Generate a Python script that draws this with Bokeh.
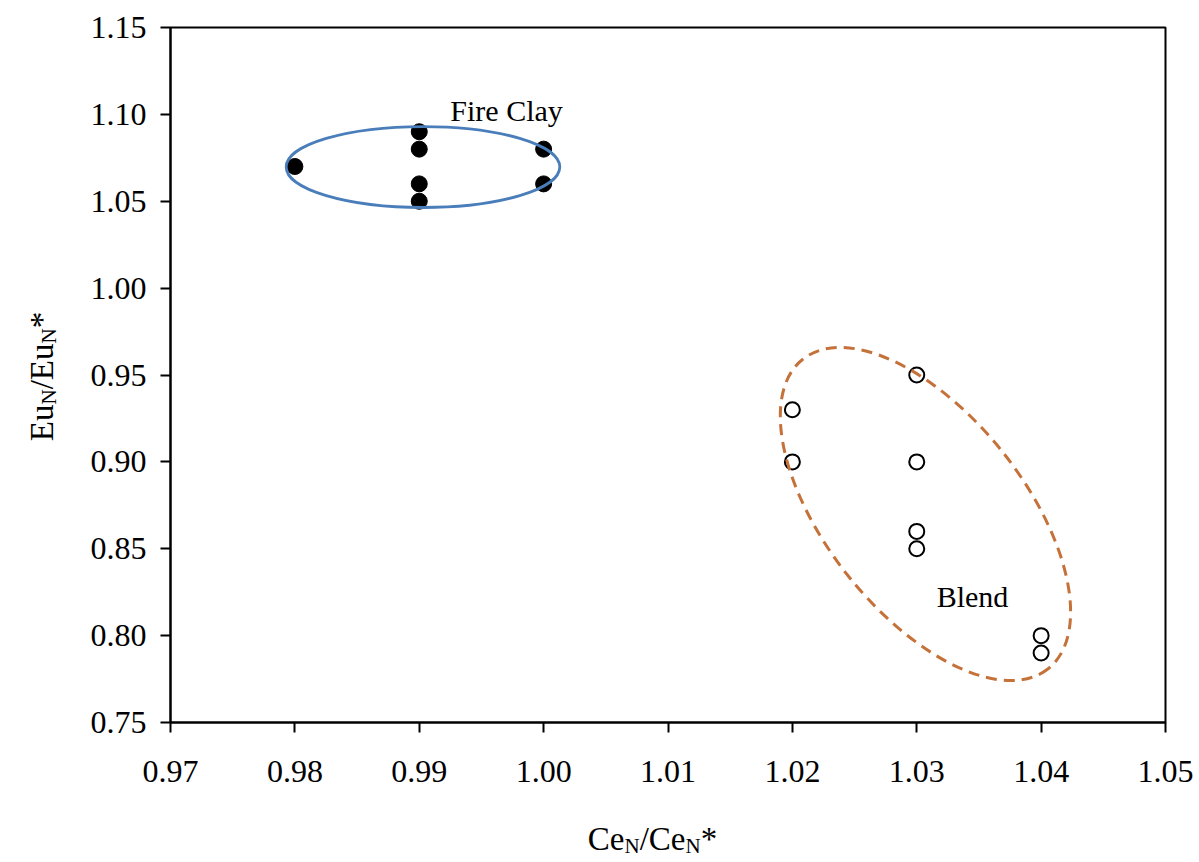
import math
from bokeh.plotting import figure
from bokeh.layouts import row, column
from bokeh.models import Range1d, FixedTicker, NumeralTickFormatter
from bokeh.embed import file_html
from bokeh.resources import INLINE
from bokeh.core.properties import value

# ---- data ----
fire_x = [0.98, 0.99, 0.99, 0.99, 0.99, 1.00, 1.00]
fire_y = [1.07, 1.09, 1.08, 1.06, 1.05, 1.08, 1.06]
blend_x = [1.02, 1.02, 1.03, 1.03, 1.03, 1.03, 1.04, 1.04]
blend_y = [0.93, 0.90, 0.95, 0.90, 0.86, 0.85, 0.80, 0.79]

x_ticks = [0.97, 0.98, 0.99, 1.00, 1.01, 1.02, 1.03, 1.04, 1.05]
y_ticks = [0.75, 0.80, 0.85, 0.90, 0.95, 1.00, 1.05, 1.10, 1.15]

group_names = ["Fire Clay", "Blend"]
group_label_x = [0.9925, 1.0316]
group_label_y = [1.1020, 0.8225]

# group envelopes (centre, size)
fire_ell_x, fire_ell_y, fire_ell_w, fire_ell_h = 0.9903, 1.0697, 0.0220, 0.0466
blend_ell_x, blend_ell_y = 1.0307, 0.8700
blend_ell_w_px, blend_ell_h_px, blend_ell_angle = 395, 198, -51.6

FONT = "Liberation Serif"

# layout sizes (page pixels)
FRAME_L, FRAME_T, FRAME_W, FRAME_H = 170, 27, 995, 695
YT_W = 85                       # strip holding the y title
MAIN_H = 812                    # main figure height
XT_H = 862 - MAIN_H
BOTTOM = MAIN_H - FRAME_T - FRAME_H
X0, X1, Y0, Y1 = 0.97, 1.05, 0.75, 1.15
KX = (X1 - X0) / FRAME_W        # data per pixel
KY = (Y1 - Y0) / FRAME_H

p = figure(frame_width=FRAME_W, frame_height=FRAME_H,
           x_range=Range1d(X0, X1), y_range=Range1d(Y0, Y1),
           output_backend="svg", toolbar_location=None, title=None,
           min_border_left=FRAME_L - YT_W, min_border_right=34,
           min_border_top=FRAME_T, min_border_bottom=BOTTOM)

p.background_fill_color = "white"
p.border_fill_color = "white"
p.outline_line_color = "black"
p.outline_line_width = 2
p.xgrid.visible = False
p.ygrid.visible = False

for ax, ticks in ((p.xaxis[0], x_ticks), (p.yaxis[0], y_ticks)):
    ax.ticker = FixedTicker(ticks=ticks)
    ax.formatter = NumeralTickFormatter(format="0.00")
    ax.axis_line_color = "black"
    ax.axis_line_width = 2
    ax.major_tick_line_color = "black"
    ax.major_tick_line_width = 2
    ax.major_tick_in = 0
    ax.major_tick_out = 10
    ax.minor_tick_line_color = None
    ax.major_label_text_font = FONT
    ax.major_label_text_font_size = "32px"
    ax.major_label_text_color = "black"

p.xaxis.major_label_standoff = 28
p.yaxis.major_label_standoff = 14

# points
p.scatter(fire_x, fire_y, marker="circle", size=16,
          fill_color="black", line_color="black")
p.scatter(blend_x, blend_y, marker="circle", size=15,
          fill_alpha=0, line_color="black", line_width=2)

# envelopes
p.ellipse(x=[fire_ell_x], y=[fire_ell_y], width=[fire_ell_w], height=[fire_ell_h],
          fill_alpha=0, line_color="#4a7ebb", line_width=2.8)
p.ellipse(x=[blend_ell_x], y=[blend_ell_y], width=blend_ell_w_px, height=blend_ell_h_px,
          width_units="screen", height_units="screen",
          angle=blend_ell_angle, angle_units="deg",
          fill_alpha=0, line_color="#c5713a", line_width=3, line_dash="11 7")

p.text(x=group_label_x, y=group_label_y, text=group_names,
       text_font=value(FONT), text_font_size="30px", text_color="black",
       text_baseline="alphabetic", text_align="left")

# ---- axis titles with subscripts (Times metrics) ----
W = {"C": 667, "e": 444, "E": 611, "u": 500, "N": 722, "/": 278, "*": 500}

def piece_width(t, s):
    return sum(W[c] for c in t) * s / 1000.0

TS, SS, SUB = 33, 21, 7
x_title = [("Ce", TS, 0), ("N", SS, SUB), ("/Ce", TS, 0), ("N", SS, SUB), ("*", TS, 0)]
y_title = [("Eu", TS, 0), ("N", SS, SUB), ("/Eu", TS, 0), ("N", SS, SUB), ("*", TS, 0)]

def strip(**kw):
    f = figure(x_axis_type=None, y_axis_type=None, output_backend="svg",
               toolbar_location=None, title=None, **kw)
    f.outline_line_color = None
    f.background_fill_color = "white"
    f.border_fill_color = "white"
    return f

# x title strip (below everything), shares the x scale of the chart
xt = strip(frame_width=FRAME_W, frame_height=XT_H, x_range=p.x_range,
           y_range=Range1d(0, XT_H), min_border_left=FRAME_L, min_border_right=34,
           min_border_top=0, min_border_bottom=0)
total = sum(piece_width(t, s) for t, s, _ in x_title)
pos = 652 - total / 2            # page x of the title start
base_y = 862 - 838               # baseline, from bottom of strip
for t, s, sh in x_title:
    xt.text(x=[X0 + (pos - FRAME_L) * KX], y=[base_y - sh], text=[t],
            text_font=value(FONT), text_font_size=f"{s}px", text_color="black",
            text_baseline="alphabetic", text_align="left")
    pos += piece_width(t, s)

# y title strip (left of main figure), shares the y scale of the chart
yt = strip(frame_width=YT_W, frame_height=FRAME_H, x_range=Range1d(0, YT_W),
           y_range=p.y_range, min_border_left=0, min_border_right=0,
           min_border_top=FRAME_T, min_border_bottom=BOTTOM)
total = sum(piece_width(t, s) for t, s, _ in y_title)
start = 376 + total / 2          # page y where the title starts (reads upward)
base_x = 41
pos = 0.0
for t, s, sh in y_title:
    yt.text(x=[base_x + sh], y=[Y1 - (start - pos - FRAME_T) * KY], text=[t],
            angle=math.pi / 2, text_font=value(FONT), text_font_size=f"{s}px",
            text_color="black", text_baseline="alphabetic", text_align="left")
    pos += piece_width(t, s)

layout = column(row(yt, p, spacing=0), xt, spacing=0)
open("out.html", "w").write(file_html(layout, INLINE))
